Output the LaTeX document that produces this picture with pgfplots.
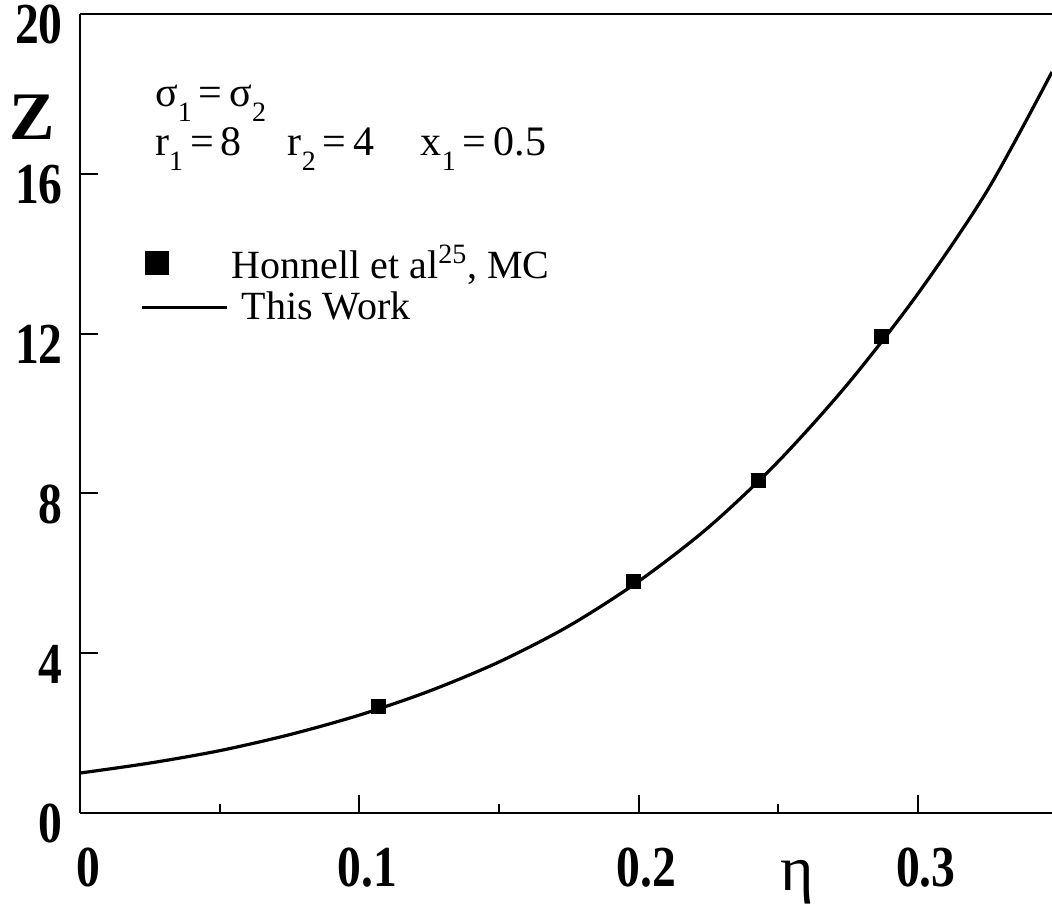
\documentclass[border=0pt]{standalone}
\usepackage{fontspec}
\setmainfont{Liberation Serif}
\usepackage{pgfplots}
\pgfplotsset{compat=1.18}
\newcommand\sub[1]{\raisebox{-0.36em}{\fontsize{14}{14}\selectfont #1}}
\newcommand\tl[1]{\scalebox{0.82}[1]{#1}}
\pgfplotsset{
  sqleg/.style={legend image code/.code={\path[draw=none, fill=none] (0pt,0pt) -- (42.5pt,0pt);\draw[##1, mark size=5.75pt] plot coordinates {(7.5pt,0pt)};}},
  lnleg/.style={legend image code/.code={\draw[##1, line width=1.2pt] (0pt,0pt) -- (42.5pt,0pt);}},
}
\begin{document}
\begin{tikzpicture}
\begin{axis}[
  name=ax,
  scale only axis, width=486pt, height=399.5pt,
  xmin=0, xmax=0.348, ymin=0, ymax=20,
  axis x line*=box, axis y line*=left,
  xtick pos=left,
  tick align=inside,
  major tick length=9pt, minor tick length=4.5pt,
  xtick={0,0.1,0.2,0.3}, xticklabels={\tl{0},\tl{0.1},\tl{0.2},\tl{0.3}},
  minor x tick num=1,
  ytick={0,4,8,12,16,20}, yticklabels={\tl{0},\tl{4},\tl{8},\tl{12},\tl{16},\tl{20}},
  /pgf/number format/assume math mode=true,
  ticklabel style={font=\fontsize{29}{29}\selectfont\bfseries, inner sep=0pt},
  xticklabel style={anchor=north, yshift=-17.5pt, xshift=4pt},
  yticklabel style={anchor=east, xshift=-8.5pt, yshift=-5.5pt},
  axis line style={line width=1.1pt},
  tick style={line width=1pt, black},
  xlabel={η},
  xlabel style={at={(rel axis cs:0.7377,0)}, anchor=center, yshift=-34.5pt, font=\fontsize{32}{32}\selectfont, inner sep=0pt},
  ylabel={Z},
  ylabel style={at={(rel axis cs:-0.0494,0.871)}, anchor=center, rotate=-90, font=\fontsize{34}{34}\selectfont\bfseries, inner sep=0pt},
  legend style={draw=none, fill=none, at={(rel axis cs:0.0617,0.7170)}, anchor=north west,
    font=\fontsize{20}{24}\selectfont, cells={anchor=west}, inner sep=0pt, row sep=1.5pt},
  clip mode=individual,
]
\addplot[only marks, mark=square*, mark size=3.5pt, black, sqleg]
  coordinates {(0.107,2.68) (0.198,5.80) (0.243,8.33) (0.287,11.93)};
\addlegendentry{Honnell et al\textsuperscript{25}, MC}
\addplot[black, line width=1.6pt, smooth, lnleg]
  coordinates {
  (0,1.00) (0.025,1.25) (0.05,1.56) (0.075,1.96) (0.1,2.45) (0.125,3.05)
  (0.15,3.78) (0.175,4.68) (0.2,5.80) (0.225,7.15) (0.25,8.80) (0.275,10.75)
  (0.3,13.0) (0.325,15.6) (0.348,18.55)};
\addlegendentry{\hspace*{5pt}This Work}
\node[anchor=base west, font=\fontsize{21}{21}\selectfont] at (rel axis cs:0.07,0.884) {σ\sub{1}\,=\,σ\sub{2}};
\node[anchor=base west, font=\fontsize{21}{21}\selectfont] at (rel axis cs:0.07,0.8235) {r\sub{1}\,=\,8\hspace{1.1em}r\sub{2}\,=\,4\hspace{1.1em}x\sub{1}\,=\,0.5};
\end{axis}
\pgfresetboundingbox
\path[use as bounding box] ([xshift=-40pt,yshift=-46pt]ax.south west) rectangle ([yshift=7pt]ax.north east);
\end{tikzpicture}
\end{document}
